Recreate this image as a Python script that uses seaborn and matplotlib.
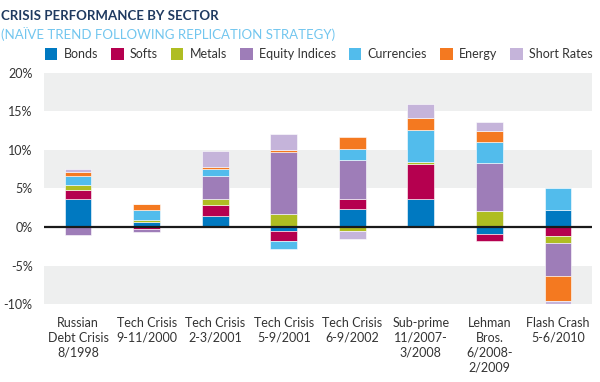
import matplotlib
matplotlib.use("Agg")
import matplotlib.pyplot as plt
from matplotlib.patches import Patch
import seaborn as sns
import numpy as np

# -----------------------------
# Data (% contribution by sector)
# -----------------------------
crises = ["Russian\nDebt Crisis\n8/1998", "Tech Crisis\n9-11/2000", "Tech Crisis\n2-3/2001",
          "Tech Crisis\n5-9/2001", "Tech Crisis\n6-9/2002", "Sub-prime\n11/2007-\n3/2008",
          "Lehman\nBros.\n6/2008-\n2/2009", "Flash Crash\n5-6/2010"]
sectors = ["Bonds", "Softs", "Metals", "Equity Indices", "Currencies", "Energy", "Short Rates"]

bonds = [3.66, 0.70, 1.38, -0.56, 2.37, 3.66, -0.95, 2.19]
softs = [1.16, -0.20, 1.51, -1.29, 1.29, 4.47, -0.81, -1.16]
metals = [0.60, 0.20, 0.77, 1.68, -0.56, 0.30, 2.06, -0.90]
equity = [-1.03, -0.40, 2.92, 8.09, 5.03, 0.00, 6.25, -4.21]
currencies = [1.21, 1.30, 0.99, -0.99, 1.37, 4.13, 2.75, 2.84]
energy = [0.52, 0.80, 0.22, 0.22, 1.55, 1.55, 1.38, -3.32]
short_rates = [0.42, 0.00, 2.10, 2.06, -0.99, 1.81, 1.20, -0.45]

series = [bonds, softs, metals, equity, currencies, energy, short_rates]
colors = ["#0079C1", "#B5004F", "#AFBD22", "#9E7DB8", "#52BCEC", "#F47920", "#C5B4DA"]

# -----------------------------
# Figure
# -----------------------------
sns.set_style("white")
plt.rcParams["font.family"] = ["Lato", "DejaVu Sans"]

fig = plt.figure(figsize=(6, 3.82), dpi=100)
ax = fig.add_axes([0.073, 0.2034, 0.914, 0.6063])

# grey bands
for lo, hi in [(15, 20), (5, 10), (-10, -5)]:
    ax.axhspan(lo, hi, color="#EEEFEF", lw=0, zorder=0)

pos = np.zeros(len(crises))
neg = np.zeros(len(crises))
for name, vals, c in zip(sectors, series, colors):
    vals = np.array(vals)
    bottom = np.where(vals >= 0, pos, neg)
    sns.barplot(x=crises, y=vals, bottom=bottom, color=c, saturation=1, width=0.39,
                errorbar=None, ax=ax, edgecolor="white", linewidth=0.4, zorder=2)
    pos = pos + np.where(vals >= 0, vals, 0)
    neg = neg + np.where(vals < 0, vals, 0)

ax.axhline(0, color="#1a1a1a", lw=1.6, zorder=3)

ax.set_xlim(-0.5, len(crises) - 0.5)
ax.set_ylim(-10, 20)
ax.set_yticks([-10, -5, 0, 5, 10, 15, 20])
ax.set_yticklabels(["-10%", "-5%", "0%", "5%", "10%", "15%", "20%"])
ax.tick_params(axis="both", length=0, labelsize=9, colors="#333333")
ax.tick_params(axis="y", pad=8)
ax.tick_params(axis="x", pad=9)
for lbl in ax.get_xticklabels():
    lbl.set_linespacing(1.3)
for s in ax.spines.values():
    s.set_visible(False)
ax.set_xlabel("")
ax.set_ylabel("")

# -----------------------------
# Titles + legend
# -----------------------------
fig.text(0.002, 0.975, "CRISIS PERFORMANCE BY SECTOR", fontsize=9.5, fontweight="bold",
         color="#1F3A60", va="top", ha="left")
fig.text(0.002, 0.93, "(NAÏVE TREND FOLLOWING REPLICATION STRATEGY)", fontsize=9.5,
         color="#72C6EF", va="top", ha="left")

handles = [Patch(facecolor=c, edgecolor="none") for c in colors]
fig.legend(handles, sectors, loc="center left", bbox_to_anchor=(0.056, 0.858), ncol=7,
           frameon=False, fontsize=9, handlelength=1.0, handleheight=1.0,
           handletextpad=0.5, columnspacing=1.05, labelcolor="#333333")

plt.savefig("out.png", dpi=100)
plt.close()
